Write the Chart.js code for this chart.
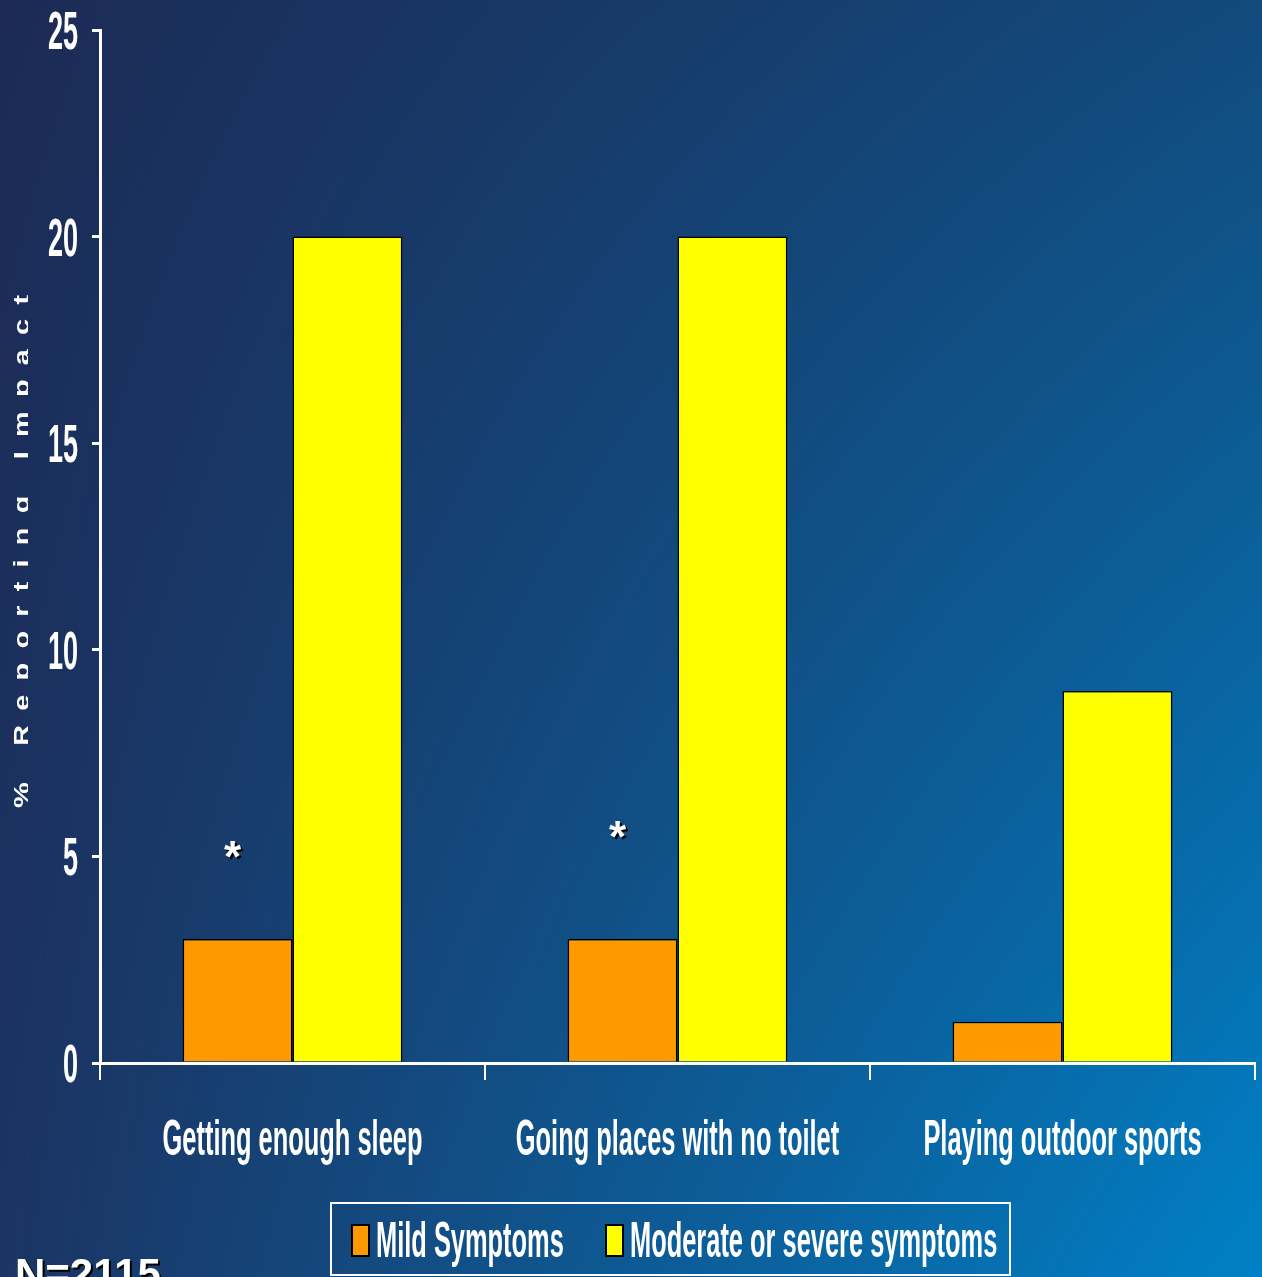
<!DOCTYPE html>
<html>
<head>
<meta charset="utf-8">
<script src="https://cdn.jsdelivr.net/npm/chart.js@4"></script>
<style>
  html, body { margin: 0; padding: 0; background: #1c2a55; }
  canvas { display: block; }
</style>
</head>
<body>
<canvas id="impactChart" width="1262" height="1277"></canvas>
<script>
// data
const categories = ['Getting enough sleep', 'Going places with no toilet', 'Playing outdoor sports'];
const mildValues = [3, 3, 1];
const severeValues = [20, 20, 9];
const seriesNames = ['Mild Symptoms', 'Moderate or severe symptoms'];
const starValues = [5.1, 5.6, null];   // where the * marks sit (y value)
const yTicks = [0, 5, 10, 15, 20, 25];

const FONT = '"Liberation Sans", Arial, sans-serif';
const NARROW = 0.82;   // fake Arial Narrow
const STRETCH = 1.6;   // slide was stretched vertically

function tallText(ctx, txt, x, y, size, align) {
  ctx.save();
  ctx.translate(x, y);
  ctx.scale(NARROW, STRETCH);
  ctx.font = 'bold ' + size + 'px ' + FONT;
  ctx.textAlign = align;
  ctx.textBaseline = 'alphabetic';
  ctx.fillStyle = '#ffffff';
  ctx.fillText(txt, 0, 0);
  ctx.restore();
}

let bgCache = null;
function makeBackground(w, h) {
  const c = document.createElement('canvas');
  c.width = w; c.height = h;
  const g = c.getContext('2d');
  const img = g.createImageData(w, h);
  const tl = [28, 42, 85], tr = [18, 74, 124], bl = [27, 52, 99], br = [0, 128, 198];
  for (let y = 0; y < h; y++) {
    const v = y / (h - 1);
    for (let x = 0; x < w; x++) {
      const u = x / (w - 1);
      const i = (y * w + x) * 4;
      for (let k = 0; k < 3; k++) {
        const top = tl[k] + (tr[k] - tl[k]) * u;
        const bot = bl[k] + (br[k] - bl[k]) * u;
        img.data[i + k] = top + (bot - top) * v;
      }
      img.data[i + 3] = 255;
    }
  }
  g.putImageData(img, 0, 0);
  return c;
}

const slidePlugin = {
  id: 'slide',
  beforeDraw(chart) {
    const ctx = chart.ctx;
    if (!bgCache) bgCache = makeBackground(chart.width, chart.height);
    ctx.drawImage(bgCache, 0, 0);
  },
  afterDraw(chart) {
    const ctx = chart.ctx;
    const yScale = chart.scales.y;
    const xScale = chart.scales.x;

    // y tick labels
    yTicks.forEach(v => {
      tallText(ctx, String(v), 78, yScale.getPixelForValue(v) + 19, 33, 'right');
    });

    // category labels
    categories.forEach((c, i) => {
      tallText(ctx, c, xScale.getPixelForTick(i), 1155, 31, 'center');
    });

    // significance stars
    const mildMeta = chart.getDatasetMeta(0);
    starValues.forEach((v, i) => {
      if (v === null) return;
      const x = mildMeta.data[i].x - 5;
      const y = yScale.getPixelForValue(v);
      ctx.save();
      ctx.font = 'bold 44px ' + FONT;
      ctx.textAlign = 'center';
      ctx.textBaseline = 'alphabetic';
      ctx.fillStyle = '#000000';
      ctx.fillText('*', x + 2, y + 22);
      ctx.fillStyle = '#ffffff';
      ctx.fillText('*', x, y + 20);
      ctx.restore();
    });

    // y axis title, rotated and widely spaced, descenders cut off
    const title = '% Reporting Impact';
    ctx.save();
    ctx.beginPath();
    ctx.rect(0, 0, 28, chart.height);
    ctx.clip();
    ctx.font = 'bold 22px ' + FONT;
    ctx.fillStyle = '#ffffff';
    ctx.textBaseline = 'alphabetic';
    const sx = STRETCH * NARROW;
    const widths = title.split('').map(ch => ctx.measureText(ch).width * sx);
    const total = 513;
    const gap = (total - widths.reduce((a, b) => a + b, 0)) / (title.length - 1);
    let pos = 0;
    title.split('').forEach((ch, i) => {
      ctx.save();
      ctx.translate(29, 808 - pos);
      ctx.rotate(-Math.PI / 2);
      ctx.scale(sx, 1);
      ctx.fillText(ch, 0, 0);
      ctx.restore();
      pos += widths[i] + gap;
    });
    ctx.restore();

    // legend box
    ctx.save();
    ctx.strokeStyle = '#ffffff';
    ctx.lineWidth = 2;
    ctx.strokeRect(331, 1203, 679, 72);
    const swatchX = [352, 606];
    const textX = [376, 630];
    chart.data.datasets.forEach((ds, i) => {
      ctx.fillStyle = ds.backgroundColor;
      ctx.fillRect(swatchX[i], 1225, 17, 31);
      ctx.strokeStyle = '#000000';
      ctx.lineWidth = 2;
      ctx.strokeRect(swatchX[i], 1225, 17, 31);
      tallText(ctx, ds.label, textX[i], 1257, 31, 'left');
    });
    ctx.restore();

    // sample size, cut off at the bottom edge
    ctx.save();
    ctx.font = 'bold 42px ' + FONT;
    ctx.textAlign = 'left';
    ctx.fillStyle = '#000000';
    ctx.fillText('N=2115', 17, 1290);
    ctx.fillStyle = '#ffffff';
    ctx.fillText('N=2115', 15, 1288);
    ctx.restore();
  }
};

const ctx = document.getElementById('impactChart');
new Chart(ctx, {
  type: 'bar',
  data: {
    labels: categories,
    datasets: [
      {
        label: seriesNames[0],
        data: mildValues,
        backgroundColor: '#ff9900',
        borderColor: '#000000',
        borderWidth: 1.5,
        barPercentage: 1.0,
        categoryPercentage: 0.571
      },
      {
        label: seriesNames[1],
        data: severeValues,
        backgroundColor: '#ffff00',
        borderColor: '#000000',
        borderWidth: 1.5,
        barPercentage: 1.0,
        categoryPercentage: 0.571
      }
    ]
  },
  options: {
    responsive: false,
    devicePixelRatio: 1,
    animation: false,
    layout: { padding: { top: 30, right: 7, left: 0, bottom: 0 } },
    plugins: {
      legend: { display: false },
      tooltip: { enabled: false }
    },
    scales: {
      y: {
        min: 0,
        max: 25,
        afterFit(s) { s.width = 100; },
        ticks: { display: false, stepSize: 5 },
        grid: {
          drawOnChartArea: false,
          drawTicks: true,
          tickLength: 8,
          color: '#ffffff',
          lineWidth: 3
        },
        border: { display: true, color: '#ffffff', width: 3 }
      },
      x: {
        afterFit(s) { s.height = 214; },
        ticks: { display: false },
        grid: {
          offset: true,
          drawOnChartArea: false,
          drawTicks: true,
          tickLength: 17,
          color: '#ffffff',
          lineWidth: 2
        },
        border: { display: true, color: '#ffffff', width: 3 }
      }
    }
  },
  plugins: [slidePlugin]
});
</script>
</body>
</html>
